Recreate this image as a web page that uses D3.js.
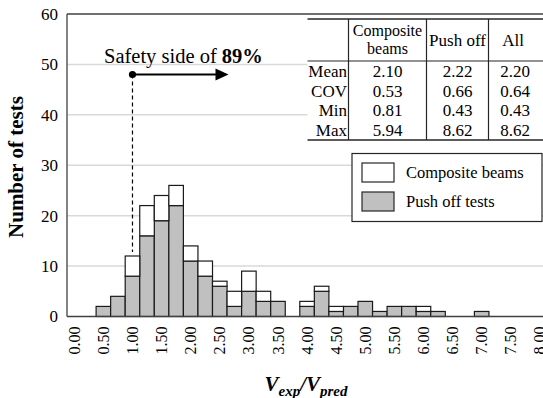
<!DOCTYPE html>
<html>
<head>
<meta charset="utf-8">
<script src="https://cdn.jsdelivr.net/npm/d3@7"></script>
<style>
  html, body { margin: 0; padding: 0; background: #fff; overflow: hidden; }
  svg { display: block; font-family: "Liberation Serif", "Times New Roman", serif; }
</style>
</head>
<body>
<svg id="chart" width="543" height="398"></svg>
<script>
// Histogram bins (V_exp / V_pred, width 0.25)
const bins = ["0.00","0.25","0.50","0.75","1.00","1.25","1.50","1.75","2.00","2.25","2.50",
  "2.75","3.00","3.25","3.50","3.75","4.00","4.25","4.50","4.75","5.00","5.25","5.50",
  "5.75","6.00","6.25","6.50","6.75","7.00","7.25","7.50","7.75","8.00"];
// Number of tests in each bin
const pushOff   = [0,0,2,4,8,16,19,22,11,8,6,2,5,3,3,0,2,5,1,2,3,1,2,2,1,1,0,0,1,0,0,0,0];
const composite = [0,0,0,0,4,6,5,4,3,3,1,3,4,2,0,0,1,1,1,0,0,0,0,0,1,0,0,0,0,0,0,0,0];
const seriesNames = ["Composite beams", "Push off tests"];
const yTicks = [0,10,20,30,40,50,60];

// Summary statistics table
const statCols = ["Composite beams", "Push off", "All"];
const statRows = ["Mean", "COV", "Min", "Max"];
const statComposite = ["2.10", "0.53", "0.81", "5.94"];
const statPushOff   = ["2.22", "0.66", "0.43", "8.62"];
const statAll       = ["2.20", "0.64", "0.43", "8.62"];

// Safety annotation
const safetyText = "Safety side of ";
const safetyPct = "89%";
const safetyStart = 1.00;
const safetyEnd = 2.65;
const safetyLevel = 48;

const svg = d3.select("#chart");
const plotL = 67, plotT = 14, plotB = 316.5, bandW = 14.55;
const plotR = plotL + bandW * bins.length;

const x = d3.scaleBand().domain(bins).range([plotL, plotR]).paddingInner(0).paddingOuter(0);
const xVal = d3.scaleLinear().domain([-0.125, 8.125]).range([plotL, plotR]);
const y = d3.scaleLinear().domain([0, 60]).range([plotB, plotT]);

// gridlines
svg.append("g").selectAll("line").data(yTicks.filter(d => d > 0 && d < 60)).join("line")
  .attr("x1", plotL).attr("x2", plotR)
  .attr("y1", d => y(d)).attr("y2", d => y(d))
  .attr("stroke", "#d9d9d9").attr("stroke-width", 1.5);

// stacked bars
const rows = bins.map((b, i) => ({ bin: b, push: pushOff[i], comp: composite[i] }));
const stack = d3.stack().keys(["push", "comp"])(rows);
const fills = { push: "#c0c0c0", comp: "#ffffff" };
svg.append("g").selectAll("g").data(stack).join("g")
  .attr("fill", d => fills[d.key])
  .selectAll("rect").data(d => d.filter(p => p[1] > p[0])).join("rect")
  .attr("x", d => x(d.data.bin))
  .attr("width", x.bandwidth())
  .attr("y", d => y(d[1]))
  .attr("height", d => y(d[0]) - y(d[1]))
  .attr("stroke", "#1a1a1a").attr("stroke-width", 1.2);

// plot frame
svg.append("line").attr("x1", plotL).attr("x2", plotR).attr("y1", plotT).attr("y2", plotT)
  .attr("stroke", "#404040").attr("stroke-width", 1.3);
svg.append("line").attr("x1", plotL).attr("x2", plotL).attr("y1", plotT).attr("y2", plotB)
  .attr("stroke", "#404040").attr("stroke-width", 1.3);
svg.append("line").attr("x1", plotL).attr("x2", plotR).attr("y1", plotB).attr("y2", plotB)
  .attr("stroke", "#404040").attr("stroke-width", 1.3);

// y axis labels
const yAxis = d3.axisLeft(y).tickValues(yTicks).tickSize(0).tickPadding(9).tickFormat(d3.format("d"));
const gy = svg.append("g").attr("transform", `translate(${plotL},0)`).call(yAxis);
gy.select(".domain").remove();
gy.selectAll("text").attr("font-size", 17).attr("font-family", "Liberation Serif, serif").attr("fill", "#000");

// x axis labels (every second bin, rotated)
const xAxis = d3.axisBottom(x).tickValues(bins.filter((d, i) => i % 2 === 0)).tickSize(0).tickPadding(0);
const gx = svg.append("g").attr("transform", `translate(0,${plotB})`).call(xAxis);
gx.select(".domain").remove();
gx.selectAll("text")
  .attr("font-size", 16).attr("font-family", "Liberation Serif, serif").attr("fill", "#000")
  .attr("transform", "rotate(-90)")
  .attr("text-anchor", "end").attr("dy", "0.35em").attr("x", -10).attr("y", 0);

// axis titles
svg.append("text").attr("transform", `translate(23,167) rotate(-90)`)
  .attr("text-anchor", "middle").attr("font-weight", "bold").attr("font-size", 21)
  .text("Number of tests");
const xt = svg.append("text").attr("x", 306).attr("y", 391).attr("text-anchor", "middle")
  .attr("font-weight", "bold").attr("font-style", "italic").attr("font-size", 21);
xt.append("tspan").text("V");
xt.append("tspan").attr("font-size", 15).attr("dy", 5).text("exp");
xt.append("tspan").attr("dy", -5).text("/V");
xt.append("tspan").attr("font-size", 15).attr("dy", 5).text("pred");

// safety annotation
const ax0 = xVal(safetyStart), ax1 = xVal(safetyEnd), ay = y(safetyLevel);
const barTop = pushOff[bins.indexOf("1.00")] + composite[bins.indexOf("1.00")];
svg.append("line").attr("x1", ax0).attr("x2", ax0).attr("y1", ay).attr("y2", y(barTop) - 4)
  .attr("stroke", "#000").attr("stroke-width", 1.2).attr("stroke-dasharray", "4,3");
svg.append("line").attr("x1", ax0).attr("x2", ax1 - 10).attr("y1", ay).attr("y2", ay)
  .attr("stroke", "#000").attr("stroke-width", 2);
svg.append("path")
  .attr("d", `M${ax1},${ay} L${ax1 - 13},${ay - 6} L${ax1 - 13},${ay + 6} Z`).attr("fill", "#000");
svg.append("circle").attr("cx", ax0).attr("cy", ay).attr("r", 3.6).attr("fill", "#000");
const st = svg.append("text").attr("x", 104).attr("y", 63).attr("font-size", 20.5);
st.append("tspan").text(safetyText);
st.append("tspan").attr("font-weight", "bold").text(safetyPct);

// statistics table
const tb = svg.append("g").attr("font-size", 17);
const tL = 307.5, tTop = 19, tHead = 61, tBot = 140, tRight = 560;
const colX = [348.5, 426.5, 488.5, tRight];
const rowH = (tBot - tHead) / statRows.length;
tb.append("rect").attr("x", tL).attr("y", tTop).attr("width", tRight - tL).attr("height", tBot - tTop).attr("fill", "#fff");
[tTop, tHead, tBot].forEach(v => tb.append("line").attr("x1", tL).attr("x2", tRight)
  .attr("y1", v).attr("y2", v).attr("stroke", "#262626").attr("stroke-width", v === tHead ? 1.2 : 1.6));
colX.slice(0, 3).forEach(v => tb.append("line").attr("x1", v).attr("x2", v)
  .attr("y1", tTop).attr("y2", tBot).attr("stroke", "#262626").attr("stroke-width", 1.2));
// header
const hdr = tb.append("text").attr("text-anchor", "middle").attr("font-size", 16);
hdr.append("tspan").attr("x", (colX[0] + colX[1]) / 2).attr("y", 35.5).text("Composite");
hdr.append("tspan").attr("x", (colX[0] + colX[1]) / 2).attr("y", 54).text("beams");
tb.append("text").attr("x", (colX[1] + colX[2]) / 2).attr("y", 46).attr("text-anchor", "middle").text(statCols[1]);
tb.append("text").attr("x", 513).attr("y", 46).attr("text-anchor", "middle").text(statCols[2]);
const colVals = [statComposite, statPushOff, statAll];
const colCenters = [(colX[0] + colX[1]) / 2, (colX[1] + colX[2]) / 2, 515];
statRows.forEach((r, i) => {
  const cy = tHead + rowH * (i + 0.5) + 6;
  tb.append("text").attr("x", colX[0] - 1.5).attr("y", cy).attr("text-anchor", "end").text(r);
  colVals.forEach((vals, j) => tb.append("text").attr("x", colCenters[j]).attr("y", cy)
    .attr("text-anchor", "middle").text(vals[i]));
});

// legend
const lg = svg.append("g").attr("font-size", 16.5);
lg.append("rect").attr("x", 352).attr("y", 153.5).attr("width", 190).attr("height", 68)
  .attr("fill", "#fff").attr("stroke", "#262626").attr("stroke-width", 1.2);
const legFill = ["#ffffff", "#c0c0c0"];
seriesNames.forEach((n, i) => {
  lg.append("rect").attr("x", 362).attr("y", 163 + i * 29).attr("width", 32).attr("height", 19)
    .attr("fill", legFill[i]).attr("stroke", "#262626").attr("stroke-width", 1.2);
  lg.append("text").attr("x", 406).attr("y", 178 + i * 29).text(n);
});
</script>
</body>
</html>
